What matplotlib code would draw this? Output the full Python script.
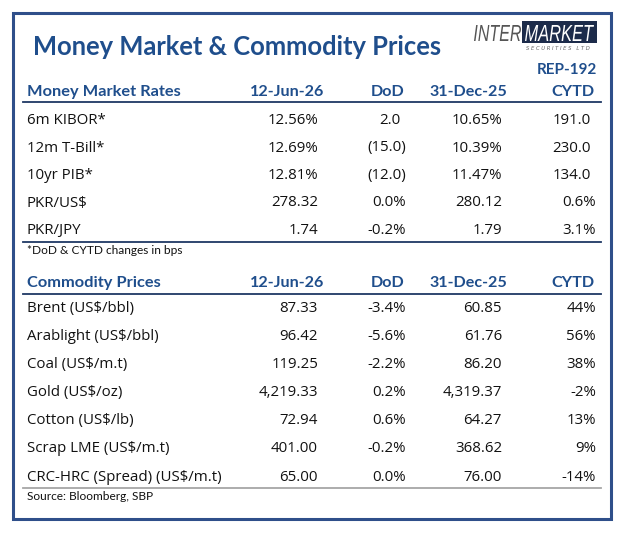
import matplotlib
matplotlib.use("Agg")
import matplotlib.pyplot as plt
from matplotlib.patches import Rectangle, PathPatch
from matplotlib.textpath import TextPath
from matplotlib.font_manager import FontProperties
from matplotlib.transforms import Affine2D

# ---- data ----
mm_labels = ["6m KIBOR*", "12m T-Bill*", "10yr PIB*", "PKR/US$", "PKR/JPY"]
mm_current = ["12.56%", "12.69%", "12.81%", "278.32", "1.74"]
mm_dod = ["2.0", "(15.0)", "(12.0)", "0.0%", "-0.2%"]
mm_prev = ["10.65%", "10.39%", "11.47%", "280.12", "1.79"]
mm_cytd = ["191.0", "230.0", "134.0", "0.6%", "3.1%"]

cm_labels = ["Brent (US$/bbl)", "Arablight (US$/bbl)", "Coal (US$/m.t)", "Gold (US$/oz)",
             "Cotton (US$/lb)", "Scrap LME (US$/m.t)", "CRC-HRC (Spread) (US$/m.t)"]
cm_current = ["87.33", "96.42", "119.25", "4,219.33", "72.94", "401.00", "65.00"]
cm_dod = ["-3.4%", "-5.6%", "-2.2%", "0.2%", "0.6%", "-0.2%", "0.0%"]
cm_prev = ["60.85", "61.76", "86.20", "4,319.37", "64.27", "368.62", "76.00"]
cm_cytd = ["44%", "56%", "38%", "-2%", "13%", "9%", "-14%"]

col_headers = ["12-Jun-26", "DoD", "31-Dec-25", "CYTD"]

title = "Money Market & Commodity Prices"
report_id = "REP-192"
footnote = "*DoD & CYTD changes in bps"
source = "Source: Bloomberg, SBP"

# ---- style ----
BLUE = "#1f4e8c"
NAVY = "#1f3864"
BODY_FONT = "Open Sans"
HEAD_FONT = "Lato"

fig = plt.figure(figsize=(6.25, 5.34), dpi=100)
ax = fig.add_axes([0, 0, 1, 1])
ax.set_xlim(0, 625)
ax.set_ylim(534, 0)
ax.axis("off")


def fitted_text(s, x0, y_top, x1, y_bot, color, fp):
    """draw text as a path stretched into a box (pixel coords, y down)"""
    tp = TextPath((0, 0), s, size=10, prop=fp)
    ext = tp.get_extents()
    sx = (x1 - x0) / ext.width
    sy = (y_bot - y_top) / ext.height
    tr = (Affine2D().translate(-ext.x0, -ext.y0).scale(sx, -sy).translate(x0, y_bot)
          + ax.transData)
    ax.add_patch(PathPatch(tp, transform=tr, facecolor=color, edgecolor="none"))


# outer frame
ax.add_patch(Rectangle((13, 13), 598, 506, fill=False, edgecolor="#2f4f8a", lw=2.2))

ax.text(33, 55, title, fontsize=18.4, fontweight="bold", color=BLUE,
        family=HEAD_FONT, va="baseline", ha="left")

# logo
logo_fp = FontProperties(family="Liberation Sans", style="italic")
ax.add_patch(Rectangle((522, 21), 75, 22, facecolor="#1c2b4a", edgecolor="none"))
fitted_text("INTER", 474, 25, 521, 41, "#555555", logo_fp)
fitted_text("MARKET", 525, 25, 594, 41, "white", logo_fp)
ax.text(558, 50.5, "S E C U R I T I E S   L T D", fontsize=3.8, color="#666666",
        style="italic", family="DejaVu Sans", va="baseline", ha="center")

ax.text(597, 74, report_id, fontsize=11, fontweight="bold", color=BLUE,
        family=HEAD_FONT, va="baseline", ha="right")

label_x = 27
head_right = [324, 405, 507, 595]
val_right = [318, 406, 502, 596]
acct_pad = 5  # plain numbers leave room for a closing bracket
line_x0, line_x1 = 23, 601


def draw_section(head_label, head_y, line_y, labels, cols, row0, step):
    ax.text(label_x, head_y, head_label, fontsize=11.8, fontweight="bold", color=BLUE,
            family=HEAD_FONT, va="baseline", ha="left")
    for h, x in zip(col_headers, head_right):
        ax.text(x, head_y, h, fontsize=11.6, fontweight="bold", color=BLUE,
                family=HEAD_FONT, va="baseline", ha="right")
    ax.plot([line_x0, line_x1], [line_y, line_y], color=NAVY, lw=1.3)
    for i, lab in enumerate(labels):
        y = row0 + i * step
        ax.text(label_x, y, lab, fontsize=10.8, color="#111111", family=BODY_FONT,
                va="baseline", ha="left")
        for j, (col, x) in enumerate(zip(cols, val_right)):
            v = col[i]
            if j in (1, 3) and not v.endswith(("%", ")")):
                x -= acct_pad
            ax.text(x, y, v, fontsize=10.8, color="#111111", family=BODY_FONT,
                    va="baseline", ha="right")


draw_section("Money Market Rates", 96, 102, mm_labels,
             [mm_current, mm_dod, mm_prev, mm_cytd], 124, 27.5)
ax.plot([line_x0, line_x1], [242, 242], color=NAVY, lw=1.3)
ax.text(label_x, 254, footnote, fontsize=8.6, color="#111111", family=HEAD_FONT,
        va="baseline", ha="left")

draw_section("Commodity Prices", 287, 294, cm_labels,
             [cm_current, cm_dod, cm_prev, cm_cytd], 312, 28.1)
ax.plot([line_x0, line_x1], [488, 488], color="#a6a6a6", lw=1.3)
ax.text(label_x, 500, source, fontsize=8.6, color="#111111", family=HEAD_FONT,
        va="baseline", ha="left")

fig.savefig("out.png", dpi=100, facecolor="white")
